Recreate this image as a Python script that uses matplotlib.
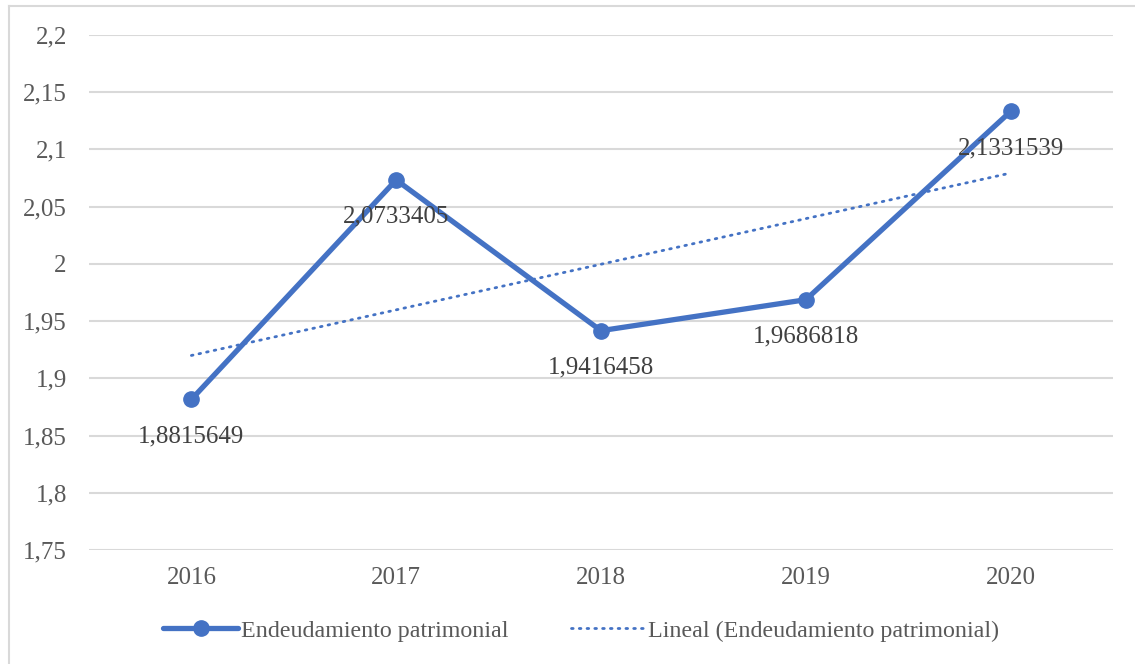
import numpy as np
import matplotlib.pyplot as plt
from matplotlib.lines import Line2D

plt.rcParams['font.family'] = ['Liberation Serif', 'DejaVu Serif']

years = ['2016', '2017', '2018', '2019', '2020']
endeudamiento = [1.8815649, 2.0733405, 1.9416458, 1.9686818, 2.1331539]
labels = ['1,8815649', '2,0733405', '1,9416458', '1,9686818', '2,1331539']
yticks = [1.75, 1.8, 1.85, 1.9, 1.95, 2.0, 2.05, 2.1, 2.15, 2.2]
ytick_labels = ['1,75', '1,8', '1,85', '1,9', '1,95', '2', '2,05', '2,1', '2,15', '2,2']

blue = '#4472C4'
x = np.arange(len(years))

fig = plt.figure(figsize=(11.35, 6.64), dpi=100)
ax = fig.add_axes([0.0784, 0.1717, 0.9022, 0.7756])

# linear trend fitted on the series (Excel "Lineal")
slope, intercept = np.polyfit(x, endeudamiento, 1)
trend = slope * x + intercept
ax.plot(x, trend, color=blue, lw=2.0, linestyle=(0, (0.6, 2.2)),
        dash_capstyle='round', zorder=2)

ax.plot(x, endeudamiento, color=blue, lw=3.8, marker='o', markersize=11,
        solid_capstyle='round', zorder=3)

for xi, yi, lab in zip(x, endeudamiento, labels):
    ax.annotate(lab, (xi, yi), xytext=(0, -26.5), textcoords='offset points',
                ha='center', va='center', fontsize=18, color='#404040', zorder=4)

ax.set_xlim(-0.5, 4.5)
ax.set_ylim(1.75, 2.2)
ax.set_yticks(yticks)
ax.set_yticklabels(ytick_labels)
ax.set_xticks(x)
ax.set_xticklabels(years)
ax.tick_params(length=0, labelsize=18, colors='#595959')
ax.tick_params(axis='y', pad=16)
ax.tick_params(axis='x', pad=12)
ax.grid(axis='y', color='#D9D9D9', lw=1.5)
ax.set_axisbelow(True)
for s in ax.spines.values():
    s.set_visible(False)

handles = [
    Line2D([0], [0], color=blue, lw=3.8, marker='o', markersize=11,
           solid_capstyle='round'),
    Line2D([0], [0], color=blue, lw=2.0, linestyle=(0, (0.6, 2.2)),
           dash_capstyle='round'),
]
fig.legend(handles, ['Endeudamiento patrimonial', 'Lineal (Endeudamiento patrimonial)'],
           loc='center', bbox_to_anchor=(0.512, 0.05), ncol=2, frameon=False,
           fontsize=17.3, labelcolor='#595959', handlelength=3.1,
           handletextpad=0.12, columnspacing=2.6)

# chart area border (left and top edges)
fig.add_artist(Line2D([0.0075, 0.0075], [0, 0.991], color='#D9D9D9', lw=1.5,
                      transform=fig.transFigure))
fig.add_artist(Line2D([0.0075, 1], [0.991, 0.991], color='#D9D9D9', lw=1.5,
                      transform=fig.transFigure))

fig.savefig('out.png', dpi=100)
